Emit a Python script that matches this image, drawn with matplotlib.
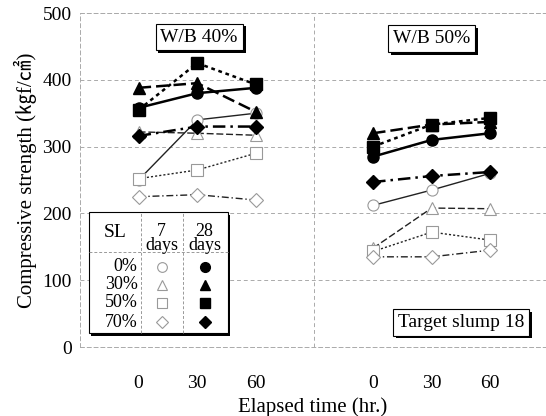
import numpy as np
import matplotlib
matplotlib.use('Agg')
import matplotlib.pyplot as plt
import matplotlib.patheffects as pe

plt.rcParams['font.family'] = ['Liberation Serif', 'Noto Sans CJK KR']

hours = np.array([0, 30, 60])
offset_50 = 120  # second group (W/B 50%) is shifted right on the shared axis

# W/B 40%, 28 days (closed markers)
wb40_28 = {
    '0%': [358, 380, 388],
    '30%': [388, 395, 352],
    '50%': [355, 425, 393],
    '70%': [316, 330, 330],
}
# W/B 40%, 7 days (open markers)
wb40_7 = {
    '0%': [250, 340, 350],
    '30%': [322, 320, 317],
    '50%': [252, 265, 290],
    '70%': [225, 228, 220],
}
# W/B 50%, 28 days
wb50_28 = {
    '0%': [285, 310, 320],
    '30%': [320, 333, 337],
    '50%': [300, 333, 343],
    '70%': [247, 256, 262],
}
# W/B 50%, 7 days
wb50_7 = {
    '0%': [212, 235, 260],
    '30%': [148, 208, 207],
    '50%': [143, 172, 160],
    '70%': [135, 135, 145],
}

sl_levels = ['0%', '30%', '50%', '70%']
markers = {'0%': 'o', '30%': '^', '50%': 's', '70%': 'D'}
styles = {'0%': '-', '30%': (0, (5, 2)), '50%': (0, (1.5, 1.5)), '70%': (0, (5, 2, 1, 2))}
msize = {'0%': 8, '30%': 8, '50%': 8, '70%': 7}

fig = plt.figure(figsize=(5.46, 4.16), dpi=100)
ax = fig.add_axes([80 / 546, 69 / 416, 466 / 546, 334 / 416])

for off, d7, d28 in [(0, wb40_7, wb40_28), (offset_50, wb50_7, wb50_28)]:
    for sl in sl_levels:
        ax.plot(hours + off, d7[sl], color='#222222', lw=1.0, ls=styles[sl],
                marker=markers[sl], ms=msize[sl], mfc='white', mec='#999999',
                mew=0.8, zorder=3)
    for sl in sl_levels:
        ax.plot(hours + off, d28[sl], color='black', lw=1.8, ls=styles[sl],
                marker=markers[sl], ms=msize[sl], mfc='black', mec='black',
                zorder=4)

ax.set_xlim(-30, 208.5)
ax.set_ylim(0, 500)
ax.set_yticks([0, 100, 200, 300, 400, 500])
ax.set_xticks([0, 30, 60, 120, 150, 180])
ax.set_xticklabels(['0', '30', '60', '0', '30', '60'])
ax.tick_params(length=0, labelsize=14, pad=6)
ax.tick_params(axis='x', pad=20)
for s in ax.spines.values():
    s.set_color('#aaaaaa')
    s.set_linestyle((0, (4, 3)))
    s.set_linewidth(0.7)
ax.grid(axis='y', color='#aaaaaa', ls=(0, (4, 3)), lw=0.7)
ax.axvline(90, color='#aaaaaa', ls=(0, (4, 3)), lw=0.7)

ax.set_xlabel('Elapsed time (hr.)', fontsize=15, labelpad=4)
ax.set_ylabel('Compressive strength (㎏f/㎠)', fontsize=15, labelpad=4)

shadow = [pe.withSimplePatchShadow(offset=(2, -2), shadow_rgbFace='black', alpha=1)]


def boxed(x, y, s):
    t = ax.text(x, y, s, fontsize=14, ha='center', va='center', zorder=6,
                bbox=dict(boxstyle='square,pad=0.25', fc='white', ec='black', lw=0.8))
    t.get_bbox_patch().set_path_effects(shadow)


boxed(31, 464, 'W/B 40%')
boxed(150, 462, 'W/B 50%')
boxed(165, 37, 'Target slump 18')

# legend table
rect = plt.Rectangle((-25.6, 21), 71.1, 181, fc='white', ec='black', lw=0.8,
                     zorder=6, path_effects=shadow)
ax.add_patch(rect)
ax.plot([1, 1], [21, 202], color='#999999', ls=(0, (3, 2)), lw=0.7, zorder=7)
ax.plot([22.5, 22.5], [21, 202], color='#999999', ls=(0, (3, 2)), lw=0.7, zorder=7)
ax.plot([-25.6, 45.5], [142, 142], color='#999999', ls=(0, (3, 2)), lw=0.7, zorder=7)
ax.text(-12, 172, 'SL', fontsize=14, ha='center', va='center', zorder=8)
ax.text(11.8, 162, '7\ndays', fontsize=13, ha='center', va='center',
        linespacing=0.75, zorder=8)
ax.text(33.8, 162, '28\ndays', fontsize=13, ha='center', va='center',
        linespacing=0.75, zorder=8)
row_y = [120, 93, 66, 37]
for sl, ry in zip(sl_levels, row_y):
    ax.text(-0.5, ry, sl, fontsize=13, ha='right', va='center', zorder=8)
    ax.plot(11.8, ry, marker=markers[sl], ms=msize[sl] - 1, mfc='white',
            mec='#999999', mew=0.8, zorder=8)
    ax.plot(33.8, ry, marker=markers[sl], ms=msize[sl] - 1, mfc='black',
            mec='black', zorder=8)

fig.savefig('out.png', dpi=100)
